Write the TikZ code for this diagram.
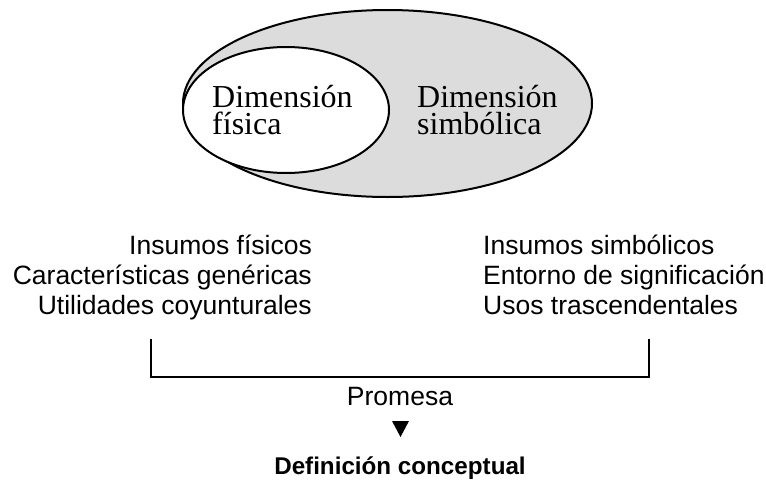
\documentclass[tikz,border=0pt]{standalone}
\usepackage{fontspec}
\setmainfont{Liberation Serif}
\setsansfont{Liberation Sans}
\definecolor{ellgray}{HTML}{DCDCDC}
\tikzset{
  ell/.style={draw=black, line width=2pt},
  serif/.style={font=\rmfamily\fontsize{32}{27}\selectfont, align=left, inner sep=0pt, anchor=north west},
  sanscol/.style={font=\sffamily\fontsize{26.5}{30}\selectfont, inner sep=0pt},
  brk/.style={draw=black, line width=2pt},
}
\begin{document}
\begin{tikzpicture}[x=1pt,y=-1pt]
\useasboundingbox (0,0) rectangle (766,482);
% ellipses
\path[ell, fill=ellgray] (387.5,103.5) ellipse [x radius=204.5pt, y radius=93.5pt];
\path[ell, fill=white] (286,110) ellipse [x radius=103pt, y radius=63pt];
\node[serif] (fis) at (212,85) {Dimensión\\física};
\node[serif] (sim) at (417,85) {Dimensión\\simbólica};
% columns
\node[sanscol, anchor=north east, align=right] (left) at (312,235) {Insumos físicos\\Características genéricas\\Utilidades coyunturales};
\node[sanscol, anchor=north west, align=left] (right) at (483,235) {Insumos simbólicos\\Entorno de significación\\Usos trascendentales};
% bracket
\coordinate (bl) at (151,339);
\coordinate (br) at (649,339);
\draw[brk] (bl) |- (649,377) -- (br);
\node[sanscol, anchor=base] (prom) at (400,405) {Promesa};
\path[fill=black] (392,421) -- (409,421) -- (400.5,437) -- cycle;
\node[sanscol, font=\sffamily\bfseries\fontsize{24.2}{30}\selectfont, anchor=base] (def) at (400,474) {Definición conceptual};
\end{tikzpicture}
\end{document}
